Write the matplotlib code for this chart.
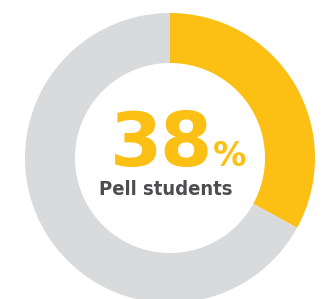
import matplotlib.pyplot as plt

plt.rcParams['mathtext.fontset'] = 'dejavusans'

# slice shares as drawn in the ring (the yellow arc covers about a third)
labels = ['Pell', 'Other']
shares = [33, 67]
colors = ['#FCC014', '#D9DADC']
big_number = '38'
unit = '%'
caption = 'Pell students'

fig = plt.figure(figsize=(3.29, 2.99), dpi=100)
ax = fig.add_axes([0, 0, 1, 1])

ax.pie(shares, colors=colors, startangle=90, counterclock=False,
       center=(170, 141), radius=145, frame=True,
       wedgeprops=dict(width=50, linewidth=0))
ax.set_xlim(0, 329)
ax.set_ylim(0, 299)
ax.set_aspect('equal')
ax.axis('off')

# digits set one by one so they sit tight like the original
# (mathtext keeps the text box tight to the glyphs, no descent below)
for i, d in enumerate(big_number):
    ax.text(133 + i * 51, 133, r'$\mathbf{' + d + '}$', fontsize=54,
            color=colors[0], ha='center', va='baseline')
ax.text(212, 133, r'$\mathbf{\%}$', fontsize=24,
        color=colors[0], ha='left', va='baseline')
ax.text(166, 104, caption, fontsize=14.5, fontweight='bold',
        family='DejaVu Sans', fontstretch='condensed',
        color='#4D4D4F', ha='center', va='baseline')

fig.savefig('out.png', dpi=100)
